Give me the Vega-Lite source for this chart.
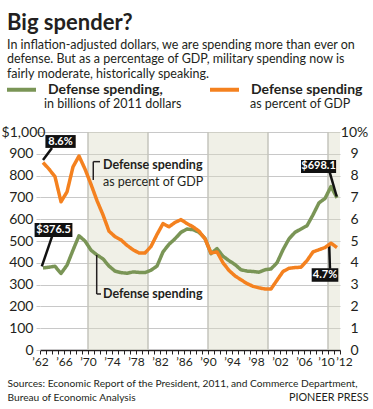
{
  "$schema": "https://vega.github.io/schema/vega-lite/v6.json",
  "width": 300,
  "height": 218,
  "autosize": "none",
  "padding": {"left": 40, "top": 132, "right": 33, "bottom": 59},
  "config": {
    "font": "Lato",
    "view": {"stroke": null},
    "axis": {"labelColor": "#231f20", "labelFont": "Lato", "titleColor": "#231f20", "titleFont": "Lato", "labelOverlap": false},
    "legend": {"labelColor": "#231f20", "labelFont": "Lato"}
  },
  "title": {
    "text": "Big spender?",
    "subtitle": [
      "In inflation-adjusted dollars, we are spending more than ever on",
      "defense. But as a percentage of GDP, military spending now is",
      "fairly moderate, historically speaking."
    ],
    "anchor": "start",
    "frame": "group",
    "dx": -33,
    "offset": -8,
    "font": "Lato",
    "fontSize": 22,
    "fontWeight": "bold",
    "color": "#231f20",
    "subtitleFont": "Lato",
    "subtitleFontSize": 12.5,
    "subtitleColor": "#231f20",
    "subtitleLineHeight": 14.5,
    "subtitlePadding": 4
  },
  "datasets": {
    "main": [
      {"year": 1962, "spending": 376.5, "pct": 8.6},
      {"year": 1963, "spending": 380, "pct": 8.3},
      {"year": 1964, "spending": 384, "pct": 7.95},
      {"year": 1965, "spending": 351, "pct": 6.8},
      {"year": 1966, "spending": 389, "pct": 7.25},
      {"year": 1967, "spending": 458, "pct": 8.4},
      {"year": 1968, "spending": 524, "pct": 8.9},
      {"year": 1969, "spending": 500, "pct": 8.3},
      {"year": 1970, "spending": 458, "pct": 7.6},
      {"year": 1971, "spending": 436, "pct": 6.85},
      {"year": 1972, "spending": 418, "pct": 6.2},
      {"year": 1973, "spending": 385, "pct": 5.45},
      {"year": 1974, "spending": 362, "pct": 5.2},
      {"year": 1975, "spending": 355, "pct": 5.05},
      {"year": 1976, "spending": 352, "pct": 4.8},
      {"year": 1977, "spending": 358, "pct": 4.6},
      {"year": 1978, "spending": 356, "pct": 4.45},
      {"year": 1979, "spending": 355, "pct": 4.45},
      {"year": 1980, "spending": 366, "pct": 4.75},
      {"year": 1981, "spending": 385, "pct": 5.3},
      {"year": 1982, "spending": 450, "pct": 5.8},
      {"year": 1983, "spending": 485, "pct": 5.65},
      {"year": 1984, "spending": 510, "pct": 5.85},
      {"year": 1985, "spending": 540, "pct": 5.98},
      {"year": 1986, "spending": 555, "pct": 5.8},
      {"year": 1987, "spending": 552, "pct": 5.65},
      {"year": 1988, "spending": 540, "pct": 5.45},
      {"year": 1989, "spending": 512, "pct": 5.1},
      {"year": 1990, "spending": 442, "pct": 4.45},
      {"year": 1991, "spending": 465, "pct": 4.5},
      {"year": 1992, "spending": 430, "pct": 4.0},
      {"year": 1993, "spending": 410, "pct": 3.65},
      {"year": 1994, "spending": 392, "pct": 3.4},
      {"year": 1995, "spending": 368, "pct": 3.22},
      {"year": 1996, "spending": 362, "pct": 3.05},
      {"year": 1997, "spending": 360, "pct": 2.92},
      {"year": 1998, "spending": 357, "pct": 2.85},
      {"year": 1999, "spending": 368, "pct": 2.8},
      {"year": 2000, "spending": 372, "pct": 2.8},
      {"year": 2001, "spending": 400, "pct": 3.2},
      {"year": 2002, "spending": 460, "pct": 3.6},
      {"year": 2003, "spending": 510, "pct": 3.75},
      {"year": 2004, "spending": 540, "pct": 3.78},
      {"year": 2005, "spending": 555, "pct": 3.8},
      {"year": 2006, "spending": 570, "pct": 4.1},
      {"year": 2007, "spending": 620, "pct": 4.5},
      {"year": 2008, "spending": 675, "pct": 4.6},
      {"year": 2009, "spending": 695, "pct": 4.7},
      {"year": 2010, "spending": 750, "pct": 4.9},
      {"year": 2011, "spending": 698.1, "pct": 4.7}
    ]
  },
  "resolve": {"scale": {"y": "independent"}},
  "layer": [
    {
      "layer": [
        {
          "data": {"values": [{"start": 1970, "end": 1980}, {"start": 1990, "end": 2000}, {"start": 2010, "end": 2012}]},
          "mark": {"type": "rect", "color": "#d9d9c4", "opacity": 0.4},
          "encoding": {
            "x": {"field": "start", "type": "quantitative"},
            "x2": {"field": "end"}
          }
        },
        {
          "data": {"values": [{"decade": 1970}, {"decade": 1980}, {"decade": 1990}, {"decade": 2000}, {"decade": 2010}]},
          "mark": {"type": "rule", "color": "#c4c4bd", "strokeWidth": 1.5},
          "encoding": {
            "x": {"field": "decade", "type": "quantitative"}
          }
        },
        {
          "data": {"name": "main"},
          "mark": {"type": "line", "strokeWidth": 3.5, "xOffset": 3, "strokeJoin": "round"},
          "encoding": {
            "x": {
              "field": "year",
              "type": "quantitative",
              "scale": {"domain": [1962, 2012], "nice": false, "zero": false},
              "axis": {
                "values": [1962,1963,1964,1965,1966,1967,1968,1969,1970,1971,1972,1973,1974,1975,1976,1977,1978,1979,1980,1981,1982,1983,1984,1985,1986,1987,1988,1989,1990,1991,1992,1993,1994,1995,1996,1997,1998,1999,2000,2001,2002,2003,2004,2005,2006,2007,2008,2009,2010,2011,2012],
                "tickCount": 200,
                "labelExpr": "((datum.value - 1962) % 4 == 0 || datum.value == 2012) ? '\u2019' + slice(toString(datum.value), 2) : ''",
                "labelOverlap": false,
                "labelFlush": false,
                "labelFontSize": 12,
                "labelOffset": {"condition": [{"test": "datum.value == 2012", "value": 4}, {"test": "datum.value == 2010", "value": -2}], "value": 0},
                "labelPadding": 2,
                "tickSize": 4,
                "tickColor": "#231f20",
                "domainColor": "#231f20",
                "domainWidth": 1.5,
                "grid": false,
                "title": ["Sources: Economic Report of the President, 2011, and Commerce Department,", "Bureau of Economic Analysis"],
                "titleX": -33,
                "titleY": 36,
                "titleAlign": "left",
                "titleAnchor": "start",
                "titleBaseline": "alphabetic",
                "titleFontSize": 10.2,
                "titleFontWeight": "normal",
                "titleLineHeight": 14.5
              }
            },
            "y": {
              "field": "spending",
              "type": "quantitative",
              "scale": {"domain": [0, 1000], "nice": false},
              "axis": {
                "values": [0,100,200,300,400,500,600,700,800,900,1000],
                "tickCount": 200,
                "labelExpr": "datum.value == 1000 ? '$1,000\u2800\u2800' : format(datum.value, 'd')",
                "labelAlign": {"condition": {"test": "datum.value == 1000", "value": "center"}, "value": "right"},
                "labelOverlap": false,
                "grid": true,
                "gridColor": "#c8c8c8",
                "domain": false,
                "tickSize": 4,
                "tickColor": "#c8c8c8",
                "labelPadding": 3,
                "labelFontSize": 14,
                "title": null
              }
            },
            "color": {
              "datum": "Defense spending,",
              "type": "nominal",
              "scale": {"domain": ["Defense spending,", "Defense spending"], "range": ["#7a9556", "#f4811f"]},
              "legend": {
                "orient": "none",
                "legendX": -35,
                "legendY": -59,
                "direction": "horizontal",
                "title": null,
                "symbolType": "stroke",
                "symbolSize": 841,
                "symbolStrokeWidth": 4,
                "labelFontSize": 14,
                "labelFontWeight": "bold",
                "labelOffset": 10,
                "labelLimit": 300,
                "columnPadding": 39
              }
            },
            "strokeDash": {
              "datum": "in billions of 2011 dollars",
              "type": "nominal",
              "scale": {"domain": ["in billions of 2011 dollars", "as percent of GDP"], "range": [[1, 0], [1, 0]]},
              "legend": {
                "orient": "none",
                "legendX": -35,
                "legendY": -43,
                "direction": "horizontal",
                "title": null,
                "symbolType": "stroke",
                "symbolSize": 841,
                "symbolStrokeWidth": 0,
                "symbolOpacity": 0,
                "labelFontSize": 12.5,
                "labelFontWeight": "normal",
                "labelOffset": 10,
                "labelLimit": 300,
                "columnPadding": 29
              }
            }
          }
        },
        {
          "data": {"values": [{}]},
          "mark": {"type": "rule", "color": "#231f20", "strokeWidth": 1.5},
          "encoding": {
            "x": {"datum": 1970.88}, "x2": {"datum": 1972.0},
            "y": {"datum": 864}
          }
        },
        {
          "data": {"values": [{}]},
          "mark": {"type": "rule", "color": "#231f20", "strokeWidth": 1.5},
          "encoding": {
            "x": {"datum": 1970.88},
            "y": {"datum": 864}, "y2": {"datum": 780}
          }
        },
        {
          "data": {"values": [{}]},
          "mark": {"type": "text", "align": "left", "baseline": "middle", "fontSize": 12.5, "fontWeight": "bold", "color": "#231f20"},
          "encoding": {
            "x": {"datum": 1972.5}, "y": {"datum": 849},
            "text": {"value": "Defense spending"}
          }
        },
        {
          "data": {"values": [{}]},
          "mark": {"type": "text", "align": "left", "baseline": "middle", "fontSize": 12.5, "color": "#231f20"},
          "encoding": {
            "x": {"datum": 1972.5}, "y": {"datum": 771},
            "text": {"value": "as percent of GDP"}
          }
        },
        {
          "data": {"values": [{}]},
          "mark": {"type": "rule", "color": "#231f20", "strokeWidth": 1.5},
          "encoding": {
            "x": {"datum": 1971.45},
            "y": {"datum": 436}, "y2": {"datum": 257}
          }
        },
        {
          "data": {"values": [{}]},
          "mark": {"type": "rule", "color": "#231f20", "strokeWidth": 1.5},
          "encoding": {
            "x": {"datum": 1971.45}, "x2": {"datum": 1972.17},
            "y": {"datum": 257}
          }
        },
        {
          "data": {"values": [{}]},
          "mark": {"type": "text", "align": "left", "baseline": "middle", "fontSize": 12.5, "fontWeight": "bold", "color": "#231f20"},
          "encoding": {
            "x": {"datum": 1972.5}, "y": {"datum": 257},
            "text": {"value": "Defense spending"}
          }
        },
        {
          "data": {"values": [{}]},
          "mark": {"type": "rule", "color": "#111111", "strokeWidth": 2.5},
          "encoding": {
            "x": {"datum": 1964.0}, "x2": {"datum": 1962.5},
            "y": {"datum": 927}, "y2": {"datum": 872}
          }
        },
        {
          "data": {"values": [{}]},
          "mark": {"type": "rect", "color": "#111111"},
          "encoding": {
            "x": {"datum": 1962.9}, "x2": {"datum": 1967.95},
            "y": {"datum": 986}, "y2": {"datum": 927}
          }
        },
        {
          "data": {"values": [{}]},
          "mark": {"type": "text", "align": "center", "baseline": "middle", "fontSize": 11, "fontWeight": "bold", "color": "#ffffff"},
          "encoding": {
            "x": {"datum": 1965.42}, "y": {"datum": 956},
            "text": {"value": "8.6%"}
          }
        },
        {
          "data": {"values": [{}]},
          "mark": {"type": "rule", "color": "#111111", "strokeWidth": 2.5},
          "encoding": {
            "x": {"datum": 1964.0}, "x2": {"datum": 1962.3},
            "y": {"datum": 520}, "y2": {"datum": 384}
          }
        },
        {
          "data": {"values": [{}]},
          "mark": {"type": "rect", "color": "#111111"},
          "encoding": {
            "x": {"datum": 1961.1}, "x2": {"datum": 1967.4},
            "y": {"datum": 583}, "y2": {"datum": 518}
          }
        },
        {
          "data": {"values": [{}]},
          "mark": {"type": "text", "align": "center", "baseline": "middle", "fontSize": 11, "fontWeight": "bold", "color": "#ffffff"},
          "encoding": {
            "x": {"datum": 1964.25}, "y": {"datum": 550},
            "text": {"value": "$376.5"}
          }
        },
        {
          "data": {"values": [{}]},
          "mark": {"type": "rule", "color": "#111111", "strokeWidth": 2.5},
          "encoding": {
            "x": {"datum": 2010.3}, "x2": {"datum": 2011.45},
            "y": {"datum": 814}, "y2": {"datum": 704}
          }
        },
        {
          "data": {"values": [{}]},
          "mark": {"type": "rect", "color": "#111111"},
          "encoding": {
            "x": {"datum": 2005.5}, "x2": {"datum": 2011.35},
            "y": {"datum": 872}, "y2": {"datum": 812}
          }
        },
        {
          "data": {"values": [{}]},
          "mark": {"type": "text", "align": "center", "baseline": "middle", "fontSize": 11, "fontWeight": "bold", "color": "#ffffff"},
          "encoding": {
            "x": {"datum": 2008.42}, "y": {"datum": 842},
            "text": {"value": "$698.1"}
          }
        },
        {
          "data": {"values": [{}]},
          "mark": {"type": "rule", "color": "#111111", "strokeWidth": 2.5},
          "encoding": {
            "x": {"datum": 2010.33}, "x2": {"datum": 2010.2},
            "y": {"datum": 373}, "y2": {"datum": 480}
          }
        },
        {
          "data": {"values": [{}]},
          "mark": {"type": "rect", "color": "#111111"},
          "encoding": {
            "x": {"datum": 2007.28}, "x2": {"datum": 2011.72},
            "y": {"datum": 375}, "y2": {"datum": 313}
          }
        },
        {
          "data": {"values": [{}]},
          "mark": {"type": "text", "align": "center", "baseline": "middle", "fontSize": 11, "fontWeight": "bold", "color": "#ffffff"},
          "encoding": {
            "x": {"datum": 2009.5}, "y": {"datum": 344},
            "text": {"value": "4.7%"}
          }
        }
      ]
    },
    {
      "data": {"name": "main"},
      "mark": {"type": "line", "strokeWidth": 3.5, "xOffset": 3, "strokeJoin": "round"},
      "encoding": {
        "x": {"field": "year", "type": "quantitative"},
        "y": {
          "field": "pct",
          "type": "quantitative",
          "scale": {"domain": [0, 10], "nice": false},
          "axis": {
            "orient": "right",
            "values": [0,1,2,3,4,5,6,7,8,9,10],
            "tickCount": 200,
            "labelExpr": "datum.value == 10 ? '10%' : format(datum.value, 'd')",
            "grid": false,
            "domain": false,
            "ticks": false,
            "labelPadding": 14,
            "labelAlign": "center",
            "labelFontSize": 14,
            "title": "PIONEER PRESS",
            "titleAngle": 0,
            "titleX": 28,
            "titleY": 268,
            "titleAlign": "right",
            "titleBaseline": "alphabetic",
            "titleFontSize": 10.8,
            "titleFontWeight": "normal"
          }
        },
        "color": {"datum": "Defense spending", "type": "nominal"},
        "strokeDash": {"datum": "as percent of GDP", "type": "nominal"}
      }
    }
  ]
}
